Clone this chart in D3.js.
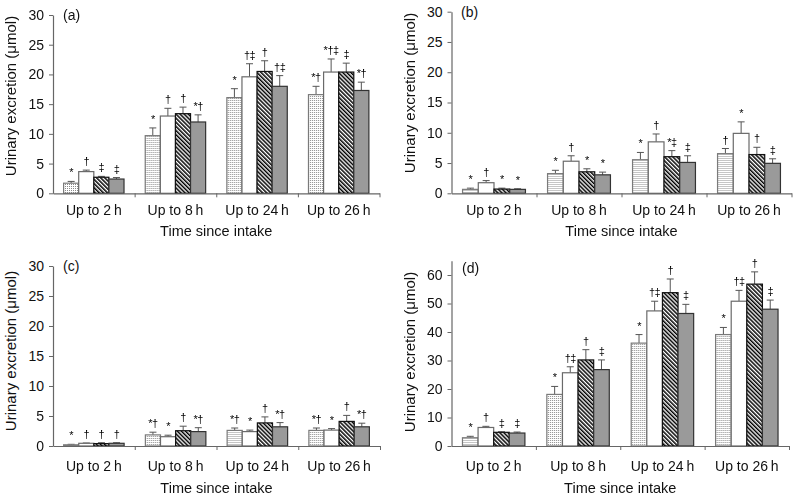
<!DOCTYPE html>
<html>
<head>
<meta charset="utf-8">
<script src="https://cdn.jsdelivr.net/npm/d3@7/dist/d3.min.js"></script>
<style>
  html, body { margin: 0; padding: 0; background: #fff; }
  svg { display: block; font-family: "Liberation Sans", Arial, Helvetica, sans-serif; }
  .sig { opacity: 0.99; will-change: opacity; }
</style>
</head>
<body>
<svg id="chart" width="800" height="500"></svg>
<script>
// ---------- data ----------
const categories = ["Up to 2\u2009h", "Up to 8\u2009h", "Up to 24\u2009h", "Up to 26\u2009h"];
const seriesNames = ["s1", "s2", "s3", "s4"];
const panelLetters = ["(a)", "(b)", "(c)", "(d)"];
const yTicksA = [0, 5, 10, 15, 20, 25, 30];
const yTicksD = [0, 10, 20, 30, 40, 50, 60];

// means: rows = categories, columns = series
const meansA = [[1.7, 3.65, 2.7, 2.4], [9.7, 13.0, 13.4, 12.0], [16.1, 19.6, 20.5, 18.0], [16.6, 20.4, 20.4, 17.3]];
const errA   = [[0.3, 0.25, 0.15, 0.25], [1.3, 1.3, 1.1, 1.2], [1.5, 2.2, 1.8, 1.8], [1.4, 2.2, 1.5, 1.4]];
const sigA   = [["*", "\u2020", "\u2021", "\u2021"], ["*", "\u2020", "\u2020", "*\u2020"], ["*", "\u2020\u2021", "\u2020", "\u2020\u2021"], ["*\u2020", "*\u2020\u2021", "\u2021", "*\u2020"]];

const meansB = [[0.65, 1.75, 0.7, 0.65], [3.25, 5.3, 3.55, 3.05], [5.55, 8.5, 6.05, 5.1], [6.55, 9.9, 6.4, 4.95]];
const errB   = [[0.2, 0.35, 0.15, 0.1], [0.55, 0.9, 0.5, 0.45], [1.2, 1.3, 1.0, 1.1], [0.85, 1.9, 1.2, 0.75]];
const sigB   = [["*", "\u2020", "*", "*"], ["*", "\u2020", "*", "*"], ["*", "\u2020", "*\u2021", "\u2021"], ["\u2020", "*", "\u2020", "\u2021"]];

const meansC = [[0.2, 0.45, 0.4, 0.45], [1.85, 1.55, 2.55, 2.4], [2.6, 2.4, 3.85, 3.2], [2.6, 2.65, 4.1, 3.2]];
const errC   = [[0.08, 0.05, 0.15, 0.1], [0.45, 0.25, 0.75, 0.65], [0.4, 0.25, 1.0, 0.7], [0.4, 0.25, 1.0, 0.6]];
const sigC   = [["*", "\u2020", "\u2020", "\u2020"], ["*\u2020", "*", "\u2020", "*\u2020"], ["*\u2020", "*", "\u2020", "*\u2020"], ["*\u2020", "*", "\u2020", "*\u2020"]];

const meansD = [[2.9, 6.5, 4.8, 4.55], [18.1, 25.7, 30.2, 26.8], [36.1, 47.4, 53.8, 46.5], [39.1, 50.8, 56.8, 48.0]];
const errD   = [[0.5, 0.4, 0.2, 0.35], [2.8, 2.1, 3.6, 3.4], [3.0, 3.4, 4.8, 3.2], [2.5, 3.8, 4.3, 3.2]];
const sigD   = [["*", "\u2020", "\u2021", "\u2021"], ["*", "\u2020\u2021", "\u2020", "\u2021"], ["*", "\u2020\u2021", "\u2020", "\u2021"], ["*", "\u2020\u2021", "\u2020", "\u2021"]];

// ---------- layout (positions only) ----------
const panels = [
  { letter: panelLetters[0], means: meansA, err: errA, sig: sigA, ticks: yTicksA, ymax: 30,
    x0: 53, x1: 379.5, yBottom: 193.3, yTopVal: 30, yTopPx: 15, catY: 215, titleY: 236, ylabX: 16, ylabY: 96, letX: 63, letY: 20 },
  { letter: panelLetters[1], means: meansB, err: errB, sig: sigB, ticks: yTicksA, ymax: 30,
    x0: 451.5, x1: 791.5, yBottom: 193.3, yTopVal: 30, yTopPx: 11.7, catY: 215, titleY: 236, ylabX: 415, ylabY: 93, letX: 461, letY: 17 },
  { letter: panelLetters[2], means: meansC, err: errC, sig: sigC, ticks: yTicksA, ymax: 30,
    x0: 53, x1: 380, yBottom: 446, yTopVal: 30, yTopPx: 266, catY: 471, titleY: 493, ylabX: 16, ylabY: 351, letX: 63, letY: 271 },
  { letter: panelLetters[3], means: meansD, err: errD, sig: sigD, ticks: yTicksD, ymax: 65,
    x0: 451.5, x1: 789, yBottom: 446, yTopVal: 60, yTopPx: 275, catY: 471, titleY: 493, ylabX: 415, ylabY: 352, letX: 462, letY: 273 }
];

const svg = d3.select("#chart");
const defs = svg.append("defs");

// stipple pattern
const dots = defs.append("pattern").attr("id", "dots").attr("patternUnits", "userSpaceOnUse")
  .attr("width", 2).attr("height", 2);
dots.append("rect").attr("width", 2).attr("height", 2).attr("fill", "#fff");
dots.append("rect").attr("width", 1).attr("height", 1).attr("fill", "#8a8a8a");

// hatch pattern
const hatch = defs.append("pattern").attr("id", "hatch").attr("patternUnits", "userSpaceOnUse")
  .attr("width", 2.9).attr("height", 2.9).attr("patternTransform", "rotate(-45)");
hatch.append("rect").attr("width", 2.9).attr("height", 2.9).attr("fill", "#fff");
hatch.append("line").attr("x1", 0.75).attr("y1", 0).attr("x2", 0.75).attr("y2", 2.9)
  .attr("stroke", "#000").attr("stroke-width", 1.55);

const fills = ["url(#dots)", "#fff", "url(#hatch)", "#9a9a9a"];
const strokes = ["#7a7a7a", "#6a6a6a", "#111", "#333"];
const axisColor = "#666";

panels.forEach(p => {
  const g = svg.append("g");
  const pxPerUnit = (p.yBottom - p.yTopPx) / p.yTopVal;
  const y = d3.scaleLinear().domain([0, p.ymax]).range([p.yBottom, p.yBottom - p.ymax * pxPerUnit]);
  const xBand = d3.scaleBand().domain(categories).range([p.x0, p.x1]).paddingInner(0).paddingOuter(0);
  const innerPad = xBand.bandwidth() * 0.13;
  const xSeries = d3.scaleBand().domain(seriesNames).range([innerPad, xBand.bandwidth() - innerPad]).padding(0);
  const xBound = d3.scaleLinear().domain([0, categories.length]).range([p.x0, p.x1]);

  const sigG = g.append("g").attr("class", "sig");

  // bars
  categories.forEach((cat, ci) => {
    const cg = g.append("g").attr("transform", `translate(${xBand(cat)},0)`);
    seriesNames.forEach((s, si) => {
      const v = p.means[ci][si];
      const e = p.err[ci][si];
      const bx = xSeries(s), bw = xSeries.bandwidth();
      const cx = bx + bw / 2;
      // error bar
      cg.append("line").attr("x1", cx).attr("x2", cx).attr("y1", y(v)).attr("y2", y(v + e))
        .attr("stroke", "#555").attr("stroke-width", 1);
      cg.append("line").attr("x1", cx - 3.5).attr("x2", cx + 3.5).attr("y1", y(v + e)).attr("y2", y(v + e))
        .attr("stroke", "#555").attr("stroke-width", 1);
      cg.append("rect").attr("x", bx).attr("width", bw).attr("y", y(v)).attr("height", y(0) - y(v))
        .attr("fill", fills[si]).attr("stroke", strokes[si]).attr("stroke-width", 1.2);
      sigG.append("text").attr("x", xBand(cat) + cx).attr("y", y(v + e) - 5).attr("text-anchor", "middle")
        .attr("font-size", 11).attr("letter-spacing", "-0.5").attr("fill", "#000").text(p.sig[ci][si]);
    });
  });

  // y axis
  const yAxis = d3.axisLeft(y).tickValues(p.ticks).tickSizeInner(4).tickSizeOuter(0).tickPadding(5);
  const ya = g.append("g").attr("transform", `translate(${p.x0},0)`).call(yAxis);
  ya.select(".domain").attr("stroke", axisColor).attr("stroke-width", 1.2);
  ya.selectAll(".tick line").attr("stroke", axisColor);
  ya.selectAll(".tick text").attr("font-size", 14).attr("fill", "#111")
    .attr("font-family", "'Liberation Sans', Arial, sans-serif");

  // x axis baseline + boundary ticks
  const xb = d3.axisBottom(xBound).tickValues(d3.range(1, categories.length + 1)).tickSizeInner(4).tickSizeOuter(0).tickFormat("");
  const xa = g.append("g").attr("transform", `translate(0,${p.yBottom})`).call(xb);
  xa.select(".domain").attr("stroke", axisColor).attr("stroke-width", 1.2);
  xa.selectAll(".tick line").attr("stroke", axisColor);

  // category labels
  g.selectAll(".cat").data(categories).enter().append("text")
    .attr("x", d => xBand(d) + xBand.bandwidth() / 2).attr("y", p.catY)
    .attr("text-anchor", "middle").attr("font-size", 14).attr("fill", "#111").text(d => d);

  // axis titles
  g.append("text").attr("x", (p.x0 + p.x1) / 2).attr("y", p.titleY).attr("text-anchor", "middle")
    .attr("font-size", 14.5).attr("fill", "#111").text("Time since intake");
  g.append("text").attr("transform", `translate(${p.ylabX},${p.ylabY}) rotate(-90)`)
    .attr("text-anchor", "middle").attr("font-size", 15).attr("fill", "#111").text("Urinary excretion (\u03bcmol)");

  // panel letter
  g.append("text").attr("x", p.letX).attr("y", p.letY).attr("font-size", 14).attr("fill", "#111").text(p.letter);
});
</script>
</body>
</html>
